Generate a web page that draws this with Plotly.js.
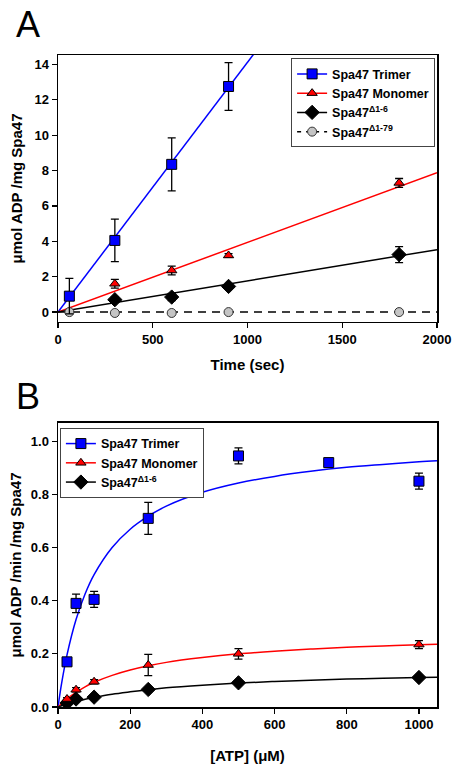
<!DOCTYPE html>
<html><head><meta charset="utf-8">
<script src="https://cdn.plot.ly/plotly-3.0.1.min.js"></script>
<style>html,body{margin:0;padding:0;background:#fff}#plot{width:461px;height:769px}</style>
</head><body><div id="plot"></div>
<script>
// Panel A data
const timeTrimer = [60, 300, 600, 900];
const trimerA = [0.9, 4.05, 8.35, 12.75];
const trimerAErr = [1.0, 1.2, 1.5, 1.35];
const timeMono = [300, 600, 900, 1800];
const monoA = [1.6, 2.35, 3.2, 7.3];
const monoAErr = [0.25, 0.25, 0.1, 0.25];
const timeD16 = [300, 600, 900, 1800];
const d16A = [0.7, 0.85, 1.45, 3.25];
const d16AErr = [0.15, 0.2, 0.05, 0.45];
const timeD179 = [60, 300, 600, 900, 1800];
const d179A = [0.0, -0.05, -0.05, 0.0, 0.0];
// Panel A fit lines
const fitTrimerAx = [0, 1100], fitTrimerAy = [0, 15.53];
const fitMonoAx = [0, 2000], fitMonoAy = [0, 7.88];
const fitD16Ax = [0, 2000], fitD16Ay = [0, 3.53];
const fitD179Ax = [0, 2000], fitD179Ay = [0, 0];

// Panel B data
const atpTrimer = [25, 50, 100, 250, 500, 750, 1000];
const trimerB = [0.17, 0.39, 0.405, 0.71, 0.945, 0.92, 0.85];
const trimerBErr = [0.01, 0.035, 0.03, 0.06, 0.03, 0.015, 0.03];
const atpMono = [25, 50, 100, 250, 500, 1000];
const monoB = [0.03, 0.065, 0.095, 0.158, 0.2, 0.235];
const monoBErr = [0.005, 0.008, 0.008, 0.04, 0.02, 0.015];
const atpD16 = [25, 50, 100, 250, 500, 1000];
const d16B = [0.015, 0.03, 0.037, 0.066, 0.091, 0.111];
const d16BErr = [0.004, 0.004, 0.005, 0.005, 0.005, 0.008];
// Panel B fitted curves
const curveX = [0, 10, 25, 50, 75, 100, 150, 200, 250, 300, 400, 500, 600, 700, 800, 900, 1000, 1050];
const curveTrimer = [0, 0.089, 0.196, 0.329, 0.425, 0.498, 0.600, 0.669, 0.718, 0.756, 0.808, 0.843, 0.868, 0.887, 0.902, 0.913, 0.923, 0.927];
const curveMono = [0, 0.013, 0.031, 0.055, 0.076, 0.093, 0.119, 0.139, 0.155, 0.168, 0.186, 0.200, 0.210, 0.218, 0.225, 0.230, 0.234, 0.236];
const curveD16 = [0, 0.005, 0.011, 0.020, 0.029, 0.036, 0.048, 0.057, 0.065, 0.072, 0.082, 0.090, 0.096, 0.101, 0.105, 0.108, 0.111, 0.112];

const names = ['Spa47 Trimer', 'Spa47 Monomer', 'Spa47<sup>Δ1-6</sup>', 'Spa47<sup>Δ1-79</sup>'];

const BLUE = '#0000ff', RED = '#ff0000', GRAY = '#c4c4c4';
const mk = {
  sq: {symbol: 'square', size: 10, color: BLUE, line: {color: '#000', width: 1}},
  tri: {symbol: 'triangle-up', size: 9, color: RED, line: {color: '#000', width: 1}},
  dia: {symbol: 'diamond', size: 11, color: '#000', line: {color: '#000', width: 1}},
  cir: {symbol: 'circle', size: 9, color: GRAY, line: {color: '#333', width: 1}}
};
function eb(arr){return {type: 'data', array: arr, visible: true, color: '#000', thickness: 1.3, width: 4};}

const traces = [];
// Panel A
traces.push({x: fitTrimerAx, y: fitTrimerAy, mode: 'lines', line: {color: BLUE, width: 1.5}, showlegend: false, xaxis: 'x', yaxis: 'y'});
traces.push({x: fitMonoAx, y: fitMonoAy, mode: 'lines', line: {color: RED, width: 1.5}, showlegend: false, xaxis: 'x', yaxis: 'y'});
traces.push({x: fitD16Ax, y: fitD16Ay, mode: 'lines', line: {color: '#000', width: 1.5}, showlegend: false, xaxis: 'x', yaxis: 'y'});
traces.push({x: fitD179Ax, y: fitD179Ay, mode: 'lines', line: {color: '#000', width: 1.5, dash: '8px,6px'}, showlegend: false, xaxis: 'x', yaxis: 'y'});
traces.push({x: timeD179, y: d179A, mode: 'markers', marker: mk.cir, showlegend: false, xaxis: 'x', yaxis: 'y'});
traces.push({x: timeD16, y: d16A, error_y: eb(d16AErr), mode: 'markers', marker: mk.dia, showlegend: false, xaxis: 'x', yaxis: 'y'});
traces.push({x: timeMono, y: monoA, error_y: eb(monoAErr), mode: 'markers', marker: mk.tri, showlegend: false, xaxis: 'x', yaxis: 'y'});
traces.push({x: timeTrimer, y: trimerA, error_y: eb(trimerAErr), mode: 'markers', marker: mk.sq, showlegend: false, xaxis: 'x', yaxis: 'y'});
// Legend A entries
traces.push({x: [null], y: [null], name: names[0], mode: 'lines+markers', line: {color: BLUE, width: 1.5}, marker: mk.sq, legend: 'legend', xaxis: 'x', yaxis: 'y'});
traces.push({x: [null], y: [null], name: names[1], mode: 'lines+markers', line: {color: RED, width: 1.5}, marker: mk.tri, legend: 'legend', xaxis: 'x', yaxis: 'y'});
traces.push({x: [null], y: [null], name: names[2], mode: 'lines+markers', line: {color: '#000', width: 1.5}, marker: mk.dia, legend: 'legend', xaxis: 'x', yaxis: 'y'});
traces.push({x: [null], y: [null], name: names[3], mode: 'lines+markers', line: {color: '#000', width: 1.5, dash: '4px,5px'}, marker: mk.cir, legend: 'legend', xaxis: 'x', yaxis: 'y'});

// Panel B
traces.push({x: curveX, y: curveTrimer, mode: 'lines', line: {color: BLUE, width: 1.5, shape: 'spline'}, showlegend: false, xaxis: 'x2', yaxis: 'y2'});
traces.push({x: curveX, y: curveMono, mode: 'lines', line: {color: RED, width: 1.5, shape: 'spline'}, showlegend: false, xaxis: 'x2', yaxis: 'y2'});
traces.push({x: curveX, y: curveD16, mode: 'lines', line: {color: '#000', width: 1.5, shape: 'spline'}, showlegend: false, xaxis: 'x2', yaxis: 'y2'});
traces.push({x: atpD16, y: d16B, error_y: eb(d16BErr), mode: 'markers', marker: mk.dia, showlegend: false, xaxis: 'x2', yaxis: 'y2'});
traces.push({x: atpMono, y: monoB, error_y: eb(monoBErr), mode: 'markers', marker: mk.tri, showlegend: false, xaxis: 'x2', yaxis: 'y2'});
traces.push({x: atpTrimer, y: trimerB, error_y: eb(trimerBErr), mode: 'markers', marker: mk.sq, showlegend: false, xaxis: 'x2', yaxis: 'y2'});
traces.push({x: [null], y: [null], name: names[0], mode: 'lines+markers', line: {color: BLUE, width: 1.5}, marker: mk.sq, legend: 'legend2', xaxis: 'x2', yaxis: 'y2'});
traces.push({x: [null], y: [null], name: names[1], mode: 'lines+markers', line: {color: RED, width: 1.5}, marker: mk.tri, legend: 'legend2', xaxis: 'x2', yaxis: 'y2'});
traces.push({x: [null], y: [null], name: names[2], mode: 'lines+markers', line: {color: '#000', width: 1.5}, marker: mk.dia, legend: 'legend2', xaxis: 'x2', yaxis: 'y2'});

const FONT = 'Liberation Sans, Arial, sans-serif';
const tickFont = {family: FONT, size: 13, color: '#000', weight: 'bold'};
const titleFont = {family: FONT, size: 15, color: '#000', weight: 'bold'};
const axBase = {showline: true, linecolor: '#000', linewidth: 1.5, mirror: true, ticks: 'outside', ticklen: 5, tickwidth: 1.2, tickcolor: '#000', showgrid: false, zeroline: false, tickfont: tickFont, automargin: false};

const legBase = {font: {family: FONT, size: 12.5, color: '#000', weight: 'bold'}, bgcolor: '#fff', bordercolor: '#444', borderwidth: 1, tracegroupgap: 0};

const layout = {
  width: 461, height: 769,
  margin: {l: 58, r: 24, t: 55, b: 62},
  paper_bgcolor: '#fff', plot_bgcolor: '#fff',
  showlegend: true,
  xaxis: Object.assign({}, axBase, {domain: [0, 1], range: [0, 2000], tickvals: [0, 500, 1000, 1500, 2000], anchor: 'y', title: {text: 'Time (sec)', font: titleFont, standoff: 13}}),
  yaxis: Object.assign({}, axBase, {domain: [0.5905, 1], range: [-0.56, 14.53], tickvals: [0, 2, 4, 6, 8, 10, 12, 14], anchor: 'x', title: {text: 'μmol ADP /mg Spa47', font: titleFont, standoff: 8}}),
  xaxis2: Object.assign({}, axBase, {domain: [0, 1], range: [0, 1050], tickvals: [0, 200, 400, 600, 800, 1000], anchor: 'y2', title: {text: '[ATP] (μM)', font: titleFont, standoff: 19}}),
  yaxis2: Object.assign({}, axBase, {domain: [0, 0.4356], range: [0, 1.069], tickvals: [0, 0.2, 0.4, 0.6, 0.8, 1.0], tickformat: '.1f', anchor: 'x2', title: {text: 'μmol ADP /min /mg Spa47', font: titleFont, standoff: 5}}),
  legend: Object.assign({}, legBase, {x: 0.995, xanchor: 'right', y: 0.995, yanchor: 'top'}),
  legend2: Object.assign({}, legBase, {x: 0.005, xanchor: 'left', y: 0.428, yanchor: 'top'}),
  annotations: [
    {text: 'A', xref: 'paper', yref: 'paper', x: -0.079, y: 1.0475, xanchor: 'center', yanchor: 'middle', showarrow: false, font: {family: FONT, size: 36, color: '#000'}},
    {text: 'B', xref: 'paper', yref: 'paper', x: -0.079, y: 0.4755, xanchor: 'center', yanchor: 'middle', showarrow: false, font: {family: FONT, size: 36, color: '#000'}}
  ]
};
Plotly.newPlot('plot', traces, layout, {staticPlot: true, displayModeBar: false});
</script></body></html>
